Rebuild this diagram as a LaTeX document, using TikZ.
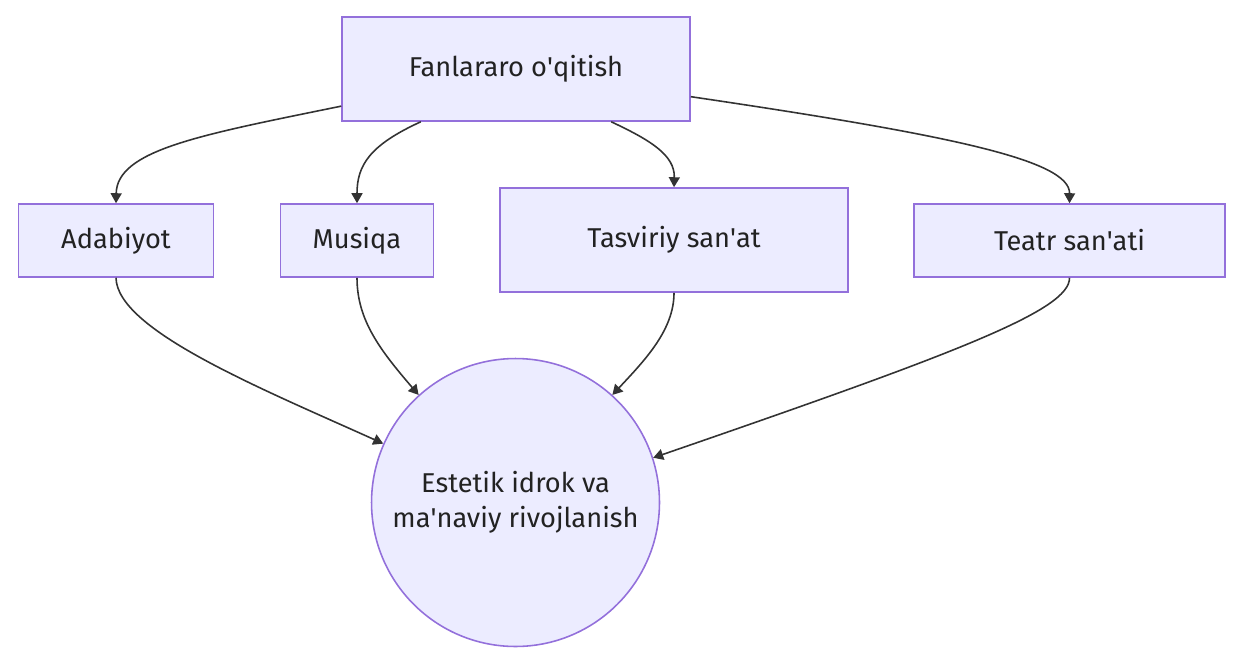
\documentclass[tikz,border=0pt]{standalone}
\usepackage{fontspec}
\setmainfont{Fira Sans}
\usetikzlibrary{arrows.meta}
\definecolor{boxfill}{HTML}{ECECFF}
\definecolor{boxline}{HTML}{9370DB}
\definecolor{edgeline}{HTML}{333333}
\definecolor{textcol}{HTML}{222222}

\begin{document}
\begin{tikzpicture}[
      x=0.02cm,y=-0.02cm,
      subject/.style={
         rectangle,
         inner sep=0pt,
         line width=0.9pt,
         draw=boxline,
         fill=boxfill,
         text=textcol,
         font=\fontsize{15.5}{20}\selectfont,
         minimum height=1.46cm
      },
      big subject/.style={
         subject,
         minimum width=6.96cm,
         minimum height=2.08cm
      },
      outcome/.style={
         circle,
         inner sep=0pt,
         line width=0.9pt,
         draw=boxline,
         fill=boxfill,
         text=textcol,
         align=center,
         font=\fontsize{15.5}{20}\selectfont,
         minimum size=5.76cm
      },
      tip/.style={-{Triangle[length=0.2cm,width=0.22cm]}},
      link/.style={draw=edgeline,line width=0.9pt,tip}
    ]
    \useasboundingbox (0,0) rectangle (1239,649);

    % top and subjects
    \node (n11) [big subject] at (516,69) {Fanlararo o\textquotesingle qitish};
    \node (n21) [subject, minimum width=3.9cm]  at (116,240.5) {Adabiyot};
    \node (n22) [subject, minimum width=3.06cm] at (357,240.5) {Musiqa};
    \node (n23) [big subject] at (674,240) {Tasviriy san\textquotesingle at};
    \node (n24) [subject, minimum width=6.22cm] at (1069.5,240.5) {Teatr san\textquotesingle ati};
    % result
    \node (n31) [outcome] at (515.5,502.5) {Estetik idrok va\\ma\textquotesingle naviy rivojlanish};

    % fan out
    \draw[link] (n11.192) .. controls (200,135) and (117,150) .. (n21.north);
    \draw[link] (n11.209) .. controls (370,145) and (357,165) .. (n22.north);
    \draw[link] (n11.-29) .. controls (650,140) and (675,155) .. (n23.north);
    \draw[link] (n11.-9)  .. controls (950,135) and (1070,160) .. (n24.north);
    % fan in
    \draw[link] (n21.south) .. controls (117,330) and (260,388) .. (n31.156);
    \draw[link] (n22.south) .. controls (357,320) and (380,350) .. (n31.132);
    \draw[link] (n23.south) .. controls (674,330) and (645,360) .. (n31.48);
    \draw[link] (n24.south) .. controls (1070,310) and (960,352) .. (n31.18);
\end{tikzpicture}
\end{document}
